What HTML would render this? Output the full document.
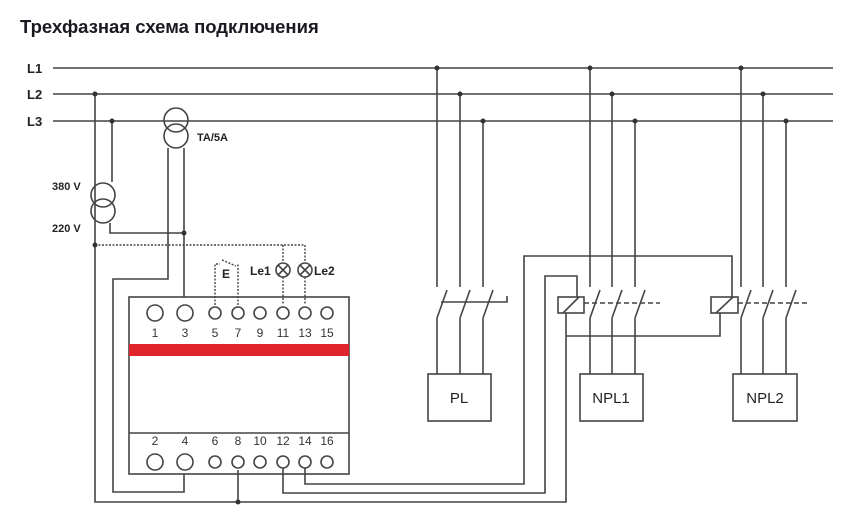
<!DOCTYPE html>
<html><head><meta charset="utf-8"><style>body{margin:0;background:#fff}svg{display:block}</style></head>
<body>
<svg width="850" height="520" viewBox="0 0 850 520" xmlns="http://www.w3.org/2000/svg" font-family="Liberation Sans, sans-serif">
<rect width="850" height="520" fill="#fff"/>
<text x="20" y="33" font-size="18.5" font-weight="bold" fill="#1a1a22">Трехфазная схема подключения</text>
<g font-size="13" font-weight="bold" fill="#222">
<text x="27" y="73">L1</text><text x="27" y="99">L2</text><text x="27" y="126">L3</text>
<text x="52" y="190" font-size="11">380 V</text><text x="52" y="232" font-size="11">220 V</text>
<text x="197" y="141" font-size="11">TA/5A</text>
<text x="222" y="278" font-size="12">E</text>
<text x="250" y="275" font-size="12">Le1</text><text x="314" y="275" font-size="12">Le2</text>
</g>
<g stroke="#444" stroke-width="1.6" fill="none">
<line x1="53" y1="68" x2="833" y2="68"/><line x1="53" y1="94" x2="833" y2="94"/><line x1="53" y1="121" x2="833" y2="121"/>
<!-- left -->
<polyline points="95,94 95,502 566,502 566,313"/>
<polyline points="112,121 112,182"/>
<circle cx="103" cy="195" r="12"/><circle cx="103" cy="211" r="12"/>
<polyline points="110,223 110,233 184,233"/>
<circle cx="176" cy="120" r="12"/><circle cx="176" cy="136" r="12"/>
<polyline points="168,148 168,279 113,279 113,492 184,492 184,470"/>
<polyline points="184,148 184,305"/>
<!-- device -->
<rect x="129" y="297" width="220" height="177" fill="#fff"/>
<line x1="129" y1="433" x2="349" y2="433"/>
<polyline points="238,470 238,502"/>
<polyline points="283,468 283,493 545,493 545,276 577,276 577,297"/>
<polyline points="305,468 305,484 524,484 524,256 732,256 732,297"/>
<polyline points="566,336 720,336 720,313"/>
<!-- switches -->
<g>
<line x1="437" y1="68" x2="437" y2="287"/><line x1="460" y1="94" x2="460" y2="287"/><line x1="483" y1="121" x2="483" y2="287"/>
<line x1="437" y1="318" x2="447" y2="290"/><line x1="460" y1="318" x2="470" y2="290"/><line x1="483" y1="318" x2="493" y2="290"/>
<line x1="437" y1="318" x2="437" y2="374"/><line x1="460" y1="318" x2="460" y2="374"/><line x1="483" y1="318" x2="483" y2="374"/>
<polyline points="441,302 507,302 507,296"/>
<rect x="428" y="374" width="63" height="47"/>
</g>
<g>
<line x1="590" y1="68" x2="590" y2="287"/><line x1="612" y1="94" x2="612" y2="287"/><line x1="635" y1="121" x2="635" y2="287"/>
<line x1="590" y1="318" x2="600" y2="290"/><line x1="612" y1="318" x2="622" y2="290"/><line x1="635" y1="318" x2="645" y2="290"/>
<line x1="590" y1="318" x2="590" y2="374"/><line x1="612" y1="318" x2="612" y2="374"/><line x1="635" y1="318" x2="635" y2="374"/>
<line x1="584" y1="303" x2="660" y2="303" stroke-dasharray="5,3"/>
<rect x="558" y="297" width="26" height="16"/><line x1="563" y1="313" x2="579" y2="297"/>
<rect x="580" y="374" width="63" height="47"/>
</g>
<g>
<line x1="741" y1="68" x2="741" y2="287"/><line x1="763" y1="94" x2="763" y2="287"/><line x1="786" y1="121" x2="786" y2="287"/>
<line x1="741" y1="318" x2="751" y2="290"/><line x1="763" y1="318" x2="773" y2="290"/><line x1="786" y1="318" x2="796" y2="290"/>
<line x1="741" y1="318" x2="741" y2="374"/><line x1="763" y1="318" x2="763" y2="374"/><line x1="786" y1="318" x2="786" y2="374"/>
<line x1="738" y1="303" x2="810" y2="303" stroke-dasharray="5,3"/>
<rect x="711" y="297" width="27" height="16"/><line x1="716" y1="313" x2="733" y2="297"/>
<rect x="733" y="374" width="64" height="47"/>
</g>
<!-- dotted -->
<g stroke-dasharray="2,1.5" stroke-width="1.4">
<polyline points="95,245 305,245 305,263"/>
<line x1="283" y1="245" x2="283" y2="263"/>
<line x1="283" y1="277" x2="283" y2="305"/><line x1="305" y1="277" x2="305" y2="305"/>
<polyline points="215,305 215,264 220,264"/><polyline points="238,305 238,264"/>
<line x1="222" y1="260" x2="236" y2="266"/>
</g>
<circle cx="283" cy="270" r="7"/><circle cx="305" cy="270" r="7"/>
<line x1="278" y1="265" x2="288" y2="275"/><line x1="288" y1="265" x2="278" y2="275"/>
<line x1="300" y1="265" x2="310" y2="275"/><line x1="310" y1="265" x2="300" y2="275"/>
<!-- terminals -->
<circle cx="155" cy="313" r="8" fill="#fff"/><circle cx="185" cy="313" r="8" fill="#fff"/>
<circle cx="215" cy="313" r="6" fill="#fff"/><circle cx="238" cy="313" r="6" fill="#fff"/><circle cx="260" cy="313" r="6" fill="#fff"/>
<circle cx="283" cy="313" r="6" fill="#fff"/><circle cx="305" cy="313" r="6" fill="#fff"/><circle cx="327" cy="313" r="6" fill="#fff"/>
<circle cx="155" cy="462" r="8" fill="#fff"/><circle cx="185" cy="462" r="8" fill="#fff"/>
<circle cx="215" cy="462" r="6" fill="#fff"/><circle cx="238" cy="462" r="6" fill="#fff"/><circle cx="260" cy="462" r="6" fill="#fff"/>
<circle cx="283" cy="462" r="6" fill="#fff"/><circle cx="305" cy="462" r="6" fill="#fff"/><circle cx="327" cy="462" r="6" fill="#fff"/>
</g>
<rect x="129" y="344" width="220" height="12" fill="#e0242b"/>
<g fill="#333">
<circle cx="437" cy="68" r="2.5"/><circle cx="460" cy="94" r="2.5"/><circle cx="483" cy="121" r="2.5"/>
<circle cx="590" cy="68" r="2.5"/><circle cx="612" cy="94" r="2.5"/><circle cx="635" cy="121" r="2.5"/>
<circle cx="741" cy="68" r="2.5"/><circle cx="763" cy="94" r="2.5"/><circle cx="786" cy="121" r="2.5"/>
<circle cx="95" cy="94" r="2.5"/><circle cx="112" cy="121" r="2.5"/><circle cx="184" cy="233" r="2.5"/>
<circle cx="95" cy="245" r="2.5"/><circle cx="238" cy="502" r="2.5"/>
</g>
<g font-size="12" fill="#333" text-anchor="middle">
<text x="155" y="337">1</text><text x="185" y="337">3</text><text x="215" y="337">5</text><text x="238" y="337">7</text>
<text x="260" y="337">9</text><text x="283" y="337">11</text><text x="305" y="337">13</text><text x="327" y="337">15</text>
<text x="155" y="445">2</text><text x="185" y="445">4</text><text x="215" y="445">6</text><text x="238" y="445">8</text>
<text x="260" y="445">10</text><text x="283" y="445">12</text><text x="305" y="445">14</text><text x="327" y="445">16</text>
</g>
<g font-size="15" fill="#222" text-anchor="middle">
<text x="459" y="403">PL</text><text x="611" y="403">NPL1</text><text x="765" y="403">NPL2</text>
</g>
</svg>
</body></html>
